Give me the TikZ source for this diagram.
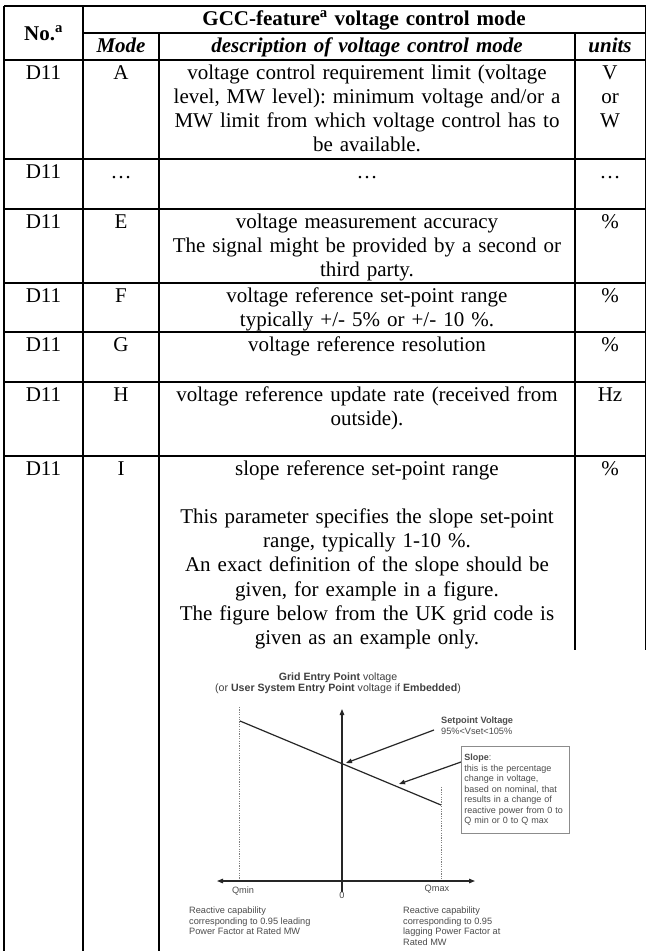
\documentclass[tikz,border=0pt]{standalone}
\usepackage{fontspec}
\setmainfont{Liberation Serif}
\newfontfamily\chartsans{Liberation Sans}
\usetikzlibrary{arrows.meta}
\frenchspacing

\begin{document}
\begin{tikzpicture}[x=1pt, y=-1pt,
  rule/.style={line width=1.2pt, black},
  body/.style={font=\fontsize{21}{24.2}\selectfont, inner sep=0pt, anchor=base, align=center},
  nocol/.style={body, text width=79pt},
  modecol/.style={body, text width=76pt},
  desccol/.style={body, text width=412pt},
  unitcol/.style={body, text width=70pt},
  chartline/.style={line width=1.2pt, black!85},
  guide/.style={line width=0.9pt, black!50, dash pattern=on 1.2pt off 1.2pt},
  tip/.style={-{Triangle[length=6pt,width=4.5pt]}},
  twotips/.style={{Triangle[length=6pt,width=4.5pt]}-{Triangle[length=6pt,width=4.5pt]}},
  chartlabel/.style={font=\chartsans\fontsize{9.2}{10.4}\selectfont, text=black!70, inner sep=0pt, align=left},
  charttitle/.style={font=\chartsans\fontsize{10.6}{11.2}\selectfont, text=black!75, inner sep=0pt, align=center},
  slopebox/.style={draw=black!45, line width=0.8pt, fill=white, anchor=north west,
    text width=102pt, inner xsep=3pt, inner ysep=4pt, minimum height=87pt, align=left,
    font=\chartsans\fontsize{9}{10.5}\selectfont, text=black!70},
]
\useasboundingbox (0,0) rectangle (647,951);
\fill[white] (0,0) rectangle (647,951);

% ---------- table rules ----------
\draw[rule] (4,6) -- (645.5,6);
\draw[rule] (83,33) -- (645.5,33);
\foreach \yy in {60,159,209,283,332,382,456}
  \draw[rule] (4,\yy) -- (645.5,\yy);
\draw[rule] (4,6) -- (4,951);
\draw[rule] (83,6) -- (83,951);
\draw[rule] (159,33) -- (159,951);
\draw[rule] (575,33) -- (575,650);
\draw[rule] (645.5,6) -- (645.5,650);

% ---------- header ----------
\node[nocol] (hno) at (43.5,40) {\bfseries No.\textsuperscript{a}};
\node[body, text width=560pt] (hgcc) at (364,25) {\bfseries GCC-feature\textsuperscript{a} voltage control mode};
\node[modecol] (hmode) at (121,52) {\bfseries\itshape Mode};
\node[desccol] (hdesc) at (367,52) {\bfseries\itshape description of voltage control mode};
\node[unitcol] (hunit) at (610,52) {\bfseries\itshape units};

% ---------- row A ----------
\node[nocol] (noA) at (43.5,79) {D11};
\node[modecol] (modeA) at (121,79) {A};
\node[desccol] (descA) at (367,79) {voltage control requirement limit (voltage\\level, MW level): minimum voltage and/or a\\MW limit from which voltage control has to\\be available.};
\node[unitcol] (unitA) at (610,79) {V\\or\\W};

% ---------- row ... ----------
\node[nocol] (noB) at (43.5,178) {D11};
\node[modecol] (modeB) at (121,178) {…};
\node[desccol] (descB) at (367,178) {…};
\node[unitcol] (unitB) at (610,178) {…};

% ---------- row E ----------
\node[nocol] (noE) at (43.5,228) {D11};
\node[modecol] (modeE) at (121,228) {E};
\node[desccol] (descE) at (367,228) {voltage measurement accuracy\\The signal might be provided by a second or\\third party.};
\node[unitcol] (unitE) at (610,228) {\%};

% ---------- row F ----------
\node[nocol] (noF) at (43.5,302) {D11};
\node[modecol] (modeF) at (121,302) {F};
\node[desccol] (descF) at (367,302) {voltage reference set-point range\\typically +/- 5\% or +/- 10 \%.};
\node[unitcol] (unitF) at (610,302) {\%};

% ---------- row G ----------
\node[nocol] (noG) at (43.5,351) {D11};
\node[modecol] (modeG) at (121,351) {G};
\node[desccol] (descG) at (367,351) {voltage reference resolution};
\node[unitcol] (unitG) at (610,351) {\%};

% ---------- row H ----------
\node[nocol] (noH) at (43.5,401) {D11};
\node[modecol] (modeH) at (121,401) {H};
\node[desccol] (descH) at (367,401) {voltage reference update rate (received from\\outside).};
\node[unitcol] (unitH) at (610,401) {Hz};

% ---------- row I ----------
\node[nocol] (noI) at (43.5,475) {D11};
\node[modecol] (modeI) at (121,475) {I};
\node[desccol] (descI) at (367,475) {slope reference set-point range\\\mbox{}\\This parameter specifies the slope set-point\\range, typically 1-10 \%.\\An exact definition of the slope should be\\given, for example in a figure.\\The figure below from the UK grid code is\\given as an example only.};
\node[unitcol] (unitI) at (610,475) {\%};

% ---------- droop characteristic ----------
\fill[white] (161,652) rectangle (647,951);
\draw[rule] (159,33) -- (159,951);

\node[charttitle] (ttl) at (338,683.5) {\textbf{Grid Entry Point} voltage\\(or \textbf{User System Entry Point} voltage if \textbf{Embedded})};

\coordinate (vbot) at (342,892);
\coordinate (vtop) at (342,709);
\coordinate (hleft) at (217,881);
\coordinate (hright) at (475,881);
\coordinate (qminTop) at (239,707);
\coordinate (qminBot) at (239,881);
\coordinate (qmaxTop) at (441,787);
\coordinate (qmaxBot) at (441,881);
\coordinate (slopeA) at (240,721);
\coordinate (slopeB) at (441,805);
\coordinate (setFrom) at (434,730);
\coordinate (setTo) at (346,763);
\coordinate (slFrom) at (461,762);
\coordinate (slTo) at (399,784);

\draw[guide] (qminTop) -- (qminBot);
\draw[guide] (qmaxTop) -- (qmaxBot);
\draw[chartline, tip] (vbot) -- (vtop);
\draw[chartline, twotips] (hleft) -- (hright);
\draw[chartline] (slopeA) -- (slopeB);
\draw[chartline, tip] (setFrom) -- (setTo);
\draw[chartline, tip] (slFrom) -- (slTo);

\node[chartlabel, anchor=north west] (setp) at (441,717) {\textbf{Setpoint Voltage}\\95\%<Vset<105\%};
\node[slopebox] (slp) at (461,746) {\textbf{Slope}:\\this is the percentage\\change in voltage,\\based on nominal, that\\results in a change of\\reactive power from 0 to\\Q min or 0 to Q max};

\node[chartlabel, anchor=center] (qminLbl) at (243,891) {Qmin};
\node[chartlabel, anchor=center] (zeroLbl) at (342,895) {0};
\node[chartlabel, anchor=center] (qmaxLbl) at (437,889) {Qmax};

\node[chartlabel, anchor=north west] (leftnote) at (189,907) {Reactive capability\\corresponding to 0.95 leading\\Power Factor at Rated MW};
\node[chartlabel, anchor=north west] (rightnote) at (403,907) {Reactive capability\\corresponding to 0.95\\lagging Power Factor at\\Rated MW};
\end{tikzpicture}
\end{document}
